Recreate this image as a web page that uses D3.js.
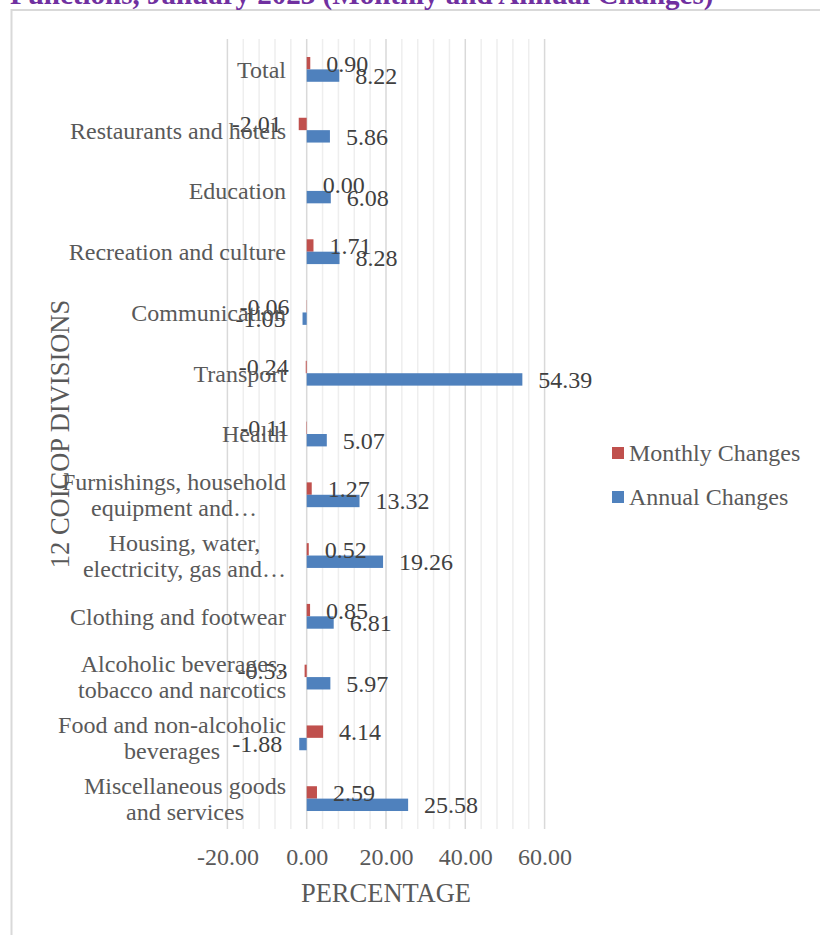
<!DOCTYPE html>
<html>
<head>
<meta charset="utf-8">
<script src="https://cdn.jsdelivr.net/npm/d3@7"></script>
<style>
  html, body { margin: 0; padding: 0; background: #fff; }
  svg { display: block; }
</style>
</head>
<body>
<svg id="chart" width="820" height="935"></svg>
<script>
// ---- data ----
const titleText = "Functions, January 2023 (Monthly and Annual Changes)";
const categories = [
  "Total",
  "Restaurants and hotels",
  "Education",
  "Recreation and culture",
  "Communication",
  "Transport",
  "Health",
  "Furnishings, household\nequipment and…",
  "Housing, water,\nelectricity, gas and…",
  "Clothing and footwear",
  "Alcoholic beverages,\ntobacco and narcotics",
  "Food and non-alcoholic\nbeverages",
  "Miscellaneous goods\nand services"
];
const monthlyChanges = [0.90, -2.01, 0.00, 1.71, -0.06, -0.24, -0.11, 1.27, 0.52, 0.85, -0.53, 4.14, 2.59];
const annualChanges  = [8.22, 5.86, 6.08, 8.28, -1.05, 54.39, 5.07, 13.32, 19.26, 6.81, 5.97, -1.88, 25.58];
const seriesNames = ["Monthly Changes", "Annual Changes"];
const seriesColors = ["#C0504D", "#4F81BD"];
const xTicks = [-20, 0, 20, 40, 60];
const xMinorStep = 4;
const xAxisTitle = "PERCENTAGE";
const yAxisTitle = "12 COICOP DIVISIONS";

// ---- layout ----
const svg = d3.select("#chart");
const plot = { left: 227.4, right: 544.6, top: 39, bottom: 829 };
const font = "'Liberation Serif', 'Times New Roman', serif";
const textColor = "#595959";
const fmt = d3.formatLocale({ decimal: ".", thousands: ",", grouping: [3], currency: ["", ""], minus: "-" }).format(".2f");

// chart border
svg.append("rect")
  .attr("x", 11.5).attr("y", 10).attr("width", 900).attr("height", 1000)
  .attr("fill", "none").attr("stroke", "#d9d9d9").attr("stroke-width", 2);

// title (clipped at top)
svg.append("text")
  .attr("x", 10).attr("y", 4)
  .attr("font-family", font).attr("font-weight", "bold").attr("font-size", 29)
  .attr("fill", "#7030A0")
  .text(titleText);

const x = d3.scaleLinear().domain([xTicks[0], xTicks[xTicks.length - 1]]).range([plot.left, plot.right]);
const y = d3.scaleBand().domain(categories).range([plot.top, plot.bottom]).paddingInner(0.592).paddingOuter(0.296);
const ySub = d3.scaleBand().domain(seriesNames).range([0, y.bandwidth()]);

// gridlines
const minorVals = d3.range(xTicks[0], xTicks[xTicks.length - 1] + 0.001, xMinorStep).filter(v => !xTicks.includes(v));
svg.append("g").selectAll("line").data(minorVals).join("line")
  .attr("x1", d => x(d)).attr("x2", d => x(d))
  .attr("y1", plot.top).attr("y2", plot.bottom)
  .attr("stroke", "#eeeeee").attr("stroke-width", 1.5);
svg.append("g").selectAll("line").data(xTicks).join("line")
  .attr("x1", d => x(d)).attr("x2", d => x(d))
  .attr("y1", plot.top).attr("y2", plot.bottom)
  .attr("stroke", "#d9d9d9").attr("stroke-width", 1.5);

// x axis
const xAxis = svg.append("g")
  .attr("transform", `translate(0,${plot.bottom})`)
  .call(d3.axisBottom(x).tickValues(xTicks).tickFormat(fmt).tickSize(0).tickPadding(19));
xAxis.select(".domain").remove();
xAxis.selectAll("text")
  .attr("font-family", font).attr("font-size", 24).attr("fill", textColor);

// bars
const rows = categories.map((c, i) => ({ cat: c, values: [monthlyChanges[i], annualChanges[i]] }));
const groups = svg.append("g").selectAll("g").data(rows).join("g")
  .attr("transform", d => `translate(0,${y(d.cat)})`);
groups.selectAll("rect").data(d => d.values.map((v, k) => ({ v, k })))
  .join("rect")
  .attr("x", d => x(Math.min(0, d.v)))
  .attr("width", d => Math.abs(x(d.v) - x(0)))
  .attr("y", d => ySub(seriesNames[d.k]))
  .attr("height", ySub.bandwidth())
  .attr("fill", d => seriesColors[d.k]);

// data labels
groups.selectAll("text.val").data(d => d.values.map((v, k) => ({ v, k })))
  .join("text").attr("class", "val")
  .attr("x", d => d.v < 0 ? x(d.v) - 17 : x(d.v) + 16)
  .attr("y", d => ySub(seriesNames[d.k]) + ySub.bandwidth() / 2)
  .attr("dy", "0.35em")
  .attr("text-anchor", d => d.v < 0 ? "end" : "start")
  .attr("font-family", font).attr("font-size", 24).attr("fill", "#404040")
  .text(d => fmt(d.v));

// category labels
const catG = svg.append("g");
categories.forEach(c => {
  const lines = c.split("\n");
  const cy = y(c) + y.bandwidth() / 2;
  const lh = 26;
  const t = catG.append("text")
    .attr("font-family", font).attr("font-size", 24).attr("fill", textColor);
  const tspans = lines.map((ln, i) => t.append("tspan")
    .attr("y", cy + (i - (lines.length - 1) / 2) * lh)
    .attr("dy", "0.35em")
    .text(ln));
  const widths = tspans.map(s => s.node().getComputedTextLength());
  const maxW = d3.max(widths);
  const rightX = 286;
  const centerX = rightX - maxW / 2;
  tspans.forEach(s => s.attr("x", centerX).attr("text-anchor", "middle"));
});

// axis titles
svg.append("text")
  .attr("x", (plot.left + plot.right) / 2).attr("y", 902)
  .attr("text-anchor", "middle")
  .attr("font-family", font).attr("font-size", 26.5).attr("fill", textColor)
  .text(xAxisTitle);
svg.append("text")
  .attr("transform", `translate(69,${(plot.top + plot.bottom) / 2}) rotate(-90)`)
  .attr("text-anchor", "middle")
  .attr("font-family", font).attr("font-size", 26.5).attr("fill", textColor)
  .text(yAxisTitle);

// legend
const legend = svg.append("g").selectAll("g").data(seriesNames).join("g")
  .attr("transform", (d, i) => `translate(612,${453 + i * 44})`);
legend.append("rect").attr("x", 0).attr("y", -6).attr("width", 12).attr("height", 12)
  .attr("fill", (d, i) => seriesColors[i]);
legend.append("text").attr("x", 17).attr("y", 0).attr("dy", "0.35em")
  .attr("font-family", font).attr("font-size", 24).attr("fill", textColor)
  .text(d => d);
</script>
</body>
</html>
